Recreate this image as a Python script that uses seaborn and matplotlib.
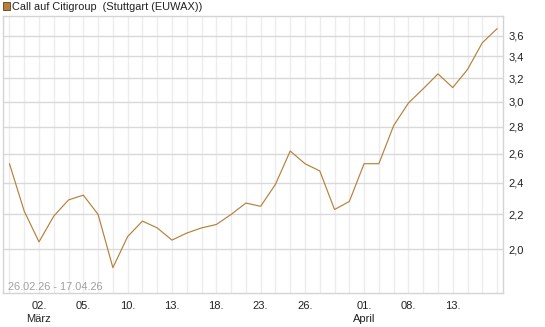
import matplotlib
matplotlib.use("Agg")
import matplotlib.pyplot as plt
import seaborn as sns
import pandas as pd
import numpy as np
from matplotlib.ticker import FixedLocator, NullLocator

# ---- data ----
day_index = list(range(34))  # trading days from 26.02.26
prices = [2.53, 2.22, 2.04, 2.19, 2.29, 2.32, 2.20, 1.90, 2.07, 2.16,
          2.12, 2.05, 2.09, 2.12, 2.14, 2.20, 2.27, 2.25, 2.39, 2.62,
          2.53, 2.48, 2.23, 2.28, 2.53, 2.53, 2.81, 2.99, 3.11, 3.24,
          3.12, 3.28, 3.53, 3.67]
x_tick_idx = [2, 5, 8, 11, 14, 17, 20, 24, 27, 30]
x_tick_labels = ["02.\nMärz", "05.", "10.", "13.", "18.", "23.", "26.",
                 "01.\nApril", "08.", "13."]
y_ticks = [2.0, 2.2, 2.4, 2.6, 2.8, 3.0, 3.2, 3.4, 3.6]
y_tick_labels = ["2,0", "2,2", "2,4", "2,6", "2,8", "3,0", "3,2", "3,4", "3,6"]
title = "Call auf Citigroup  (Stuttgart (EUWAX))"
range_text = "26.02.26 - 17.04.26"

df = pd.DataFrame({"idx": day_index, "price": prices})

sns.set_theme(style="white")
plt.rcParams["font.family"] = ["Liberation Sans", "DejaVu Sans"]

line_color = "#B5813A"
fig = plt.figure(figsize=(5.45, 3.27), dpi=100)
ax = fig.add_axes([2.5 / 545, 1 - 293 / 327, (503 - 2.5) / 545, (293 - 16) / 327])

sns.lineplot(data=df, x="idx", y="price", ax=ax, color=line_color, linewidth=0.85)

ax.set_yscale("log")
ax.set_ylim(1.772, 3.80)
ax.set_xlim(-0.47, 33.4)

ax.yaxis.set_major_locator(FixedLocator(y_ticks))
ax.yaxis.set_minor_locator(NullLocator())
ax.set_yticklabels(y_tick_labels)
ax.yaxis.tick_right()

ax.xaxis.set_major_locator(FixedLocator(x_tick_idx))
ax.set_xticklabels(x_tick_labels)
ax.xaxis.set_minor_locator(FixedLocator(day_index))

ax.set_xlabel("")
ax.set_ylabel("")

# grids
for v in day_index:
    ax.axvline(v, color="#ececec", linewidth=1.0, zorder=0)
ax.grid(False)
for v in y_ticks:
    ax.axhline(v, color="#d9d9d9", linewidth=1.0, zorder=0.5)

for s in ax.spines.values():
    s.set_color("#d4d4d4")
    s.set_linewidth(1.0)

ax.tick_params(axis="y", which="major", length=0, pad=4, labelsize=8, labelcolor="#222222")
ax.tick_params(axis="x", which="major", length=3, color="#d4d4d4", pad=3,
               labelsize=8, labelcolor="#222222")
ax.tick_params(axis="x", which="minor", length=3, color="#d4d4d4")
for lab in ax.get_xticklabels():
    lab.set_linespacing(1.35)

ax.text(0.011, 0.022, range_text, transform=ax.transAxes, fontsize=7.9,
        color="#a0a0a0", ha="left", va="center")

# legend-like header
fig.patches.append(plt.Rectangle((2.7 / 545, 1 - 9.5 / 327), 7 / 545, 7 / 327,
                                 transform=fig.transFigure, facecolor=line_color,
                                 edgecolor="#5a4020", linewidth=0.6))
fig.text(12.5 / 545, 1 - 6.5 / 327, title, fontsize=7.9, color="#222222",
         ha="left", va="center")

fig.savefig("out.png", dpi=100)
